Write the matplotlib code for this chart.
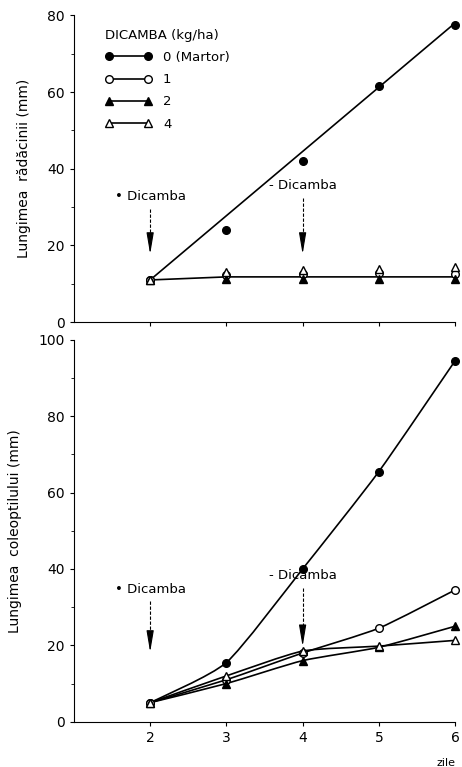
import matplotlib
matplotlib.use("Agg")
from matplotlib import pyplot as plt
from matplotlib.path import Path
from matplotlib.patches import PathPatch
import numpy as np

plt.rcParams['font.family'] = ['DejaVu Sans']

days = [2, 3, 4, 5, 6]
doses = ['0 (Martor)', '1', '2', '4']

# radacina (mm)
root_0 = [11, 24, 42, 61.5, 77.5]
root_1 = [11, 12.4, 12.6, 12.8, 12.6]
root_2 = [11, 11.2, 11.2, 11.3, 11.2]
root_4 = [11, 13.2, 13.6, 13.8, 14.5]
root_fit_days = [2, 6]
root_fit_0 = [11, 78]
root_flat = [11, 11.8, 11.8, 11.8, 11.8]

# coleoptil (mm)
col_0 = [5, 15.5, 40, 65.5, 94.5]
col_1 = [5, 11, 18, 24.5, 34.5]
col_2 = [5, 10, 16, 19.5, 25]
col_4 = [5, 12, 18.5, 19.8, 21.3]

styles = [dict(marker='o', mfc='black'), dict(marker='o', mfc='white'),
          dict(marker='^', mfc='black'), dict(marker='^', mfc='white')]

fig = plt.figure(figsize=(4.62, 7.67), dpi=100)
ax1 = fig.add_axes([0.160, 0.580, 0.825, 0.400])
ax2 = fig.add_axes([0.160, 0.059, 0.825, 0.498])

def setup(ax, ymax):
    ax.set_xlim(1, 6)
    ax.set_ylim(0, ymax)
    ax.spines['top'].set_visible(False)
    ax.spines['right'].set_visible(False)
    ax.set_xticks(days)
    ax.set_yticks(np.arange(0, ymax + 1, 20))
    ax.set_yticks(np.arange(10, ymax, 20), minor=True)
    ax.tick_params(direction='out', length=3, width=0.8, labelsize=10)
    ax.tick_params(which='minor', length=2)

setup(ax1, 80)
setup(ax2, 100)
ax1.set_xticklabels([])

kw = dict(color='black', mec='black', ms=5.5, lw=1.2, clip_on=False, zorder=3)

def smooth(ax, xs, ys, k=10):
    # curba usor rotunjita prin puncte (Catmull-Rom -> Bezier)
    pts = list(zip(xs, ys))
    verts = [pts[0]]
    codes = [Path.MOVETO]
    n = len(pts)
    for i in range(n - 1):
        p0 = pts[max(i - 1, 0)]
        p1 = pts[i]
        p2 = pts[i + 1]
        p3 = pts[min(i + 2, n - 1)]
        c1 = (p1[0] + (p2[0] - p0[0]) / k, p1[1] + (p2[1] - p0[1]) / k)
        c2 = (p2[0] - (p3[0] - p1[0]) / k, p2[1] - (p3[1] - p1[1]) / k)
        verts += [c1, c2, p2]
        codes += [Path.CURVE4] * 3
    ax.add_patch(PathPatch(Path(verts, codes), fc='none', ec='black', lw=1.2,
                           transform=ax.transData, clip_on=False))

# top panel
ax1.plot(root_fit_days, root_fit_0, color='black', lw=1.2)
ax1.plot(days, root_flat, color='black', lw=1.2)
for ys, st in zip([root_0, root_1, root_2, root_4], styles):
    ax1.plot(days, ys, ls='none', **st, **kw)

# legend handles
handles = []
for lab, st in zip(doses, styles):
    h, = ax1.plot([], [], label=lab, **st, **kw)
    handles.append(h)
leg = ax1.legend(handles=handles, loc='upper left', bbox_to_anchor=(0.05, 0.995),
                 frameon=False, numpoints=2, handlelength=3.6, fontsize=9.5,
                 title='DICAMBA (kg/ha)', title_fontsize=9.5, labelspacing=0.7,
                 alignment='left')

# bottom panel
for ys, st in zip([col_0, col_1, col_2, col_4], styles):
    smooth(ax2, days, ys)
    ax2.plot(days, ys, ls='none', **st, **kw)

# Dicamba arrows: tija punctata + varf plin
def arrow(ax, x, ytext, ytip, label):
    ax.plot([x, x], [ytext - 1.5, ytip + 4], color='black', lw=0.8,
            ls=(0, (3, 1.5)))
    ax.annotate('', xy=(x, ytip), xytext=(x, ytip + 5),
                arrowprops=dict(arrowstyle='-|>,head_length=1.3,head_width=0.22',
                                color='black', lw=0.8, mutation_scale=10))
    ax.text(x, ytext, label, ha='center', va='bottom', fontsize=9.5)

arrow(ax1, 2, 31, 17, '• Dicamba')
arrow(ax1, 4, 34, 17, '- Dicamba')
arrow(ax2, 2, 33, 17.5, '• Dicamba')
arrow(ax2, 4, 36.5, 19, '- Dicamba')

ax1.set_ylabel('Lungimea  rădăcinii (mm)', fontsize=10, labelpad=12)
ax2.set_ylabel('Lungimea  coleoptilului (mm)', fontsize=10, labelpad=12)
ax2.text(6.0, -9.5, 'zile', ha='right', va='top', fontsize=8)

fig.savefig('out.png', dpi=100)
